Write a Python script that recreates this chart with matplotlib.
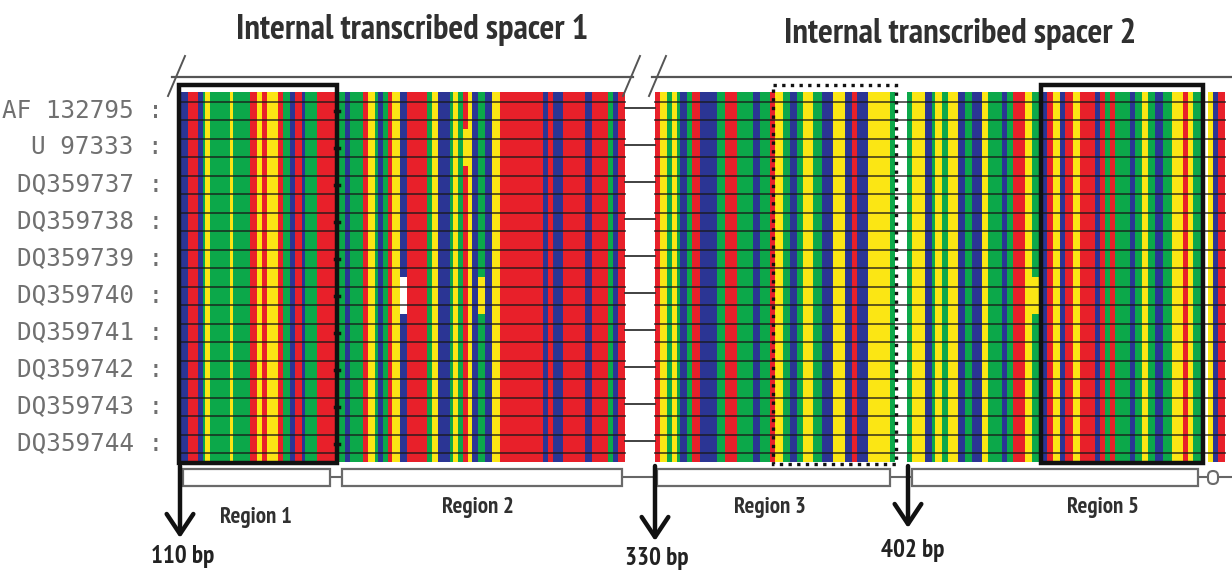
import numpy as np
import matplotlib
matplotlib.use("Agg")
import matplotlib.pyplot as plt
from matplotlib.patches import Rectangle, FancyBboxPatch
from matplotlib.colors import to_rgb
from matplotlib import font_manager as fm

# ---------------------------------------------------------------- data
accessions = ["AF 132795", "U 97333", "DQ359737", "DQ359738", "DQ359739",
              "DQ359740", "DQ359741", "DQ359742", "DQ359743", "DQ359744"]

# consensus alignment columns, run-length encoded as (base, n_columns)
its1_runs = [("C", 8), ("T", 10), ("C", 5), ("A", 2), ("G", 5), ("A", 20),
             ("G", 3), ("A", 17), ("T", 7), ("G", 5), ("T", 5), ("G", 11),
             ("T", 5), ("A", 7), ("C", 5), ("T", 7), ("C", 3), ("A", 12),
             ("T", 19),
             ("A", 9), ("C", 5), ("A", 13), ("T", 5), ("G", 7), ("A", 3),
             ("C", 5), ("A", 5), ("T", 4), ("G", 8), ("C", 7), ("T", 20),
             ("A", 5), ("G", 6), ("C", 12), ("A", 3), ("G", 5), ("A", 5),
             ("T", 5), ("G", 4), ("C", 6), ("A", 7), ("C", 7), ("G", 8),
             ("T", 43), ("C", 5), ("T", 5), ("C", 10), ("T", 22), ("C", 7),
             ("T", 16), ("A", 5), ("C", 5), ("T", 7)]

its2_runs = [("T", 5), ("G", 7), ("A", 5), ("G", 5), ("A", 3), ("C", 7),
             ("A", 5), ("T", 8), ("C", 17), ("A", 8), ("T", 12), ("A", 16),
             ("C", 7), ("A", 10), ("T", 5), ("G", 8), ("A", 7), ("C", 7),
             ("A", 6), ("G", 10), ("A", 9), ("C", 11), ("G", 12), ("C", 7),
             ("T", 5), ("C", 11), ("G", 22), ("A", 5), ("-", 12),
             ("A", 5), ("G", 13), ("C", 7), ("A", 3), ("G", 7), ("A", 6),
             ("G", 10), ("C", 7), ("A", 7), ("C", 10), ("G", 6), ("A", 14),
             ("C", 5), ("A", 6), ("T", 12), ("G", 7), ("A", 8),
             ("C", 7), ("T", 6), ("G", 7), ("C", 5), ("T", 8), ("G", 7),
             ("T", 15), ("C", 5), ("T", 5), ("A", 5), ("T", 5), ("A", 15),
             ("C", 5), ("A", 7), ("G", 6), ("A", 7), ("C", 8), ("A", 9),
             ("G", 11), ("T", 5), ("G", 5), ("A", 10), ("-", 5),
             ("G", 5), ("C", 5), ("T", 7)]

# sequence-specific differences: (row, block, first column, n_columns, base)
variants = [(1, 0, 283, 5, "G"),
            (5, 0, 220, 7, "-"),
            (5, 0, 298, 7, "G"),
            (5, 1, 377, 8, "G")]

bp_marks = [110, 330, 402]
region_names = ["Region 1", "Region 2", "Region 3", "Region 5"]
spacer_titles = ["Internal transcribed spacer 1", "Internal transcribed spacer 2"]

base_colors = {"T": "#E8202A", "A": "#0CA84A", "C": "#2B3594",
               "G": "#FBE614", "-": "#FFFFFF"}

# ---------------------------------------------------------------- fonts
_installed = {f.name for f in fm.fontManager.ttflist}
_narrow = ["PT Sans Narrow", "Roboto Condensed", "Archivo Narrow",
           "Liberation Sans Narrow", "Fira Sans Condensed", "Open Sans Condensed",
           "Encode Sans Condensed", "Asap Condensed", "Barlow Condensed",
           "Ubuntu Condensed"]
title_font = [n for n in _narrow if n in _installed][:1] + ["DejaVu Sans"]

# ---------------------------------------------------------------- layout
W, H = 1232, 573
fig = plt.figure(figsize=(W / 100, H / 100), dpi=100)
ax = fig.add_axes([0, 0, 1, 1])
ax.set_xlim(0, W)
ax.set_ylim(H, 0)
ax.axis("off")

y_top, y_bot = 92, 462
n_rows = len(accessions)
row_h = (y_bot - y_top) / n_rows
row_c = [y_top + row_h * (i + 0.5) for i in range(n_rows)]
block_x0 = [180, 655]


def block_image(runs, block):
    seq = "".join(b * n for b, n in runs)
    grid = [list(seq) for _ in range(n_rows)]
    for r, blk, c0, n, b in variants:
        if blk == block:
            for c in range(c0, c0 + n):
                grid[r][c] = b
    rgb = np.array([[to_rgb(base_colors[b]) for b in row] for row in grid])
    return rgb, len(seq)


block_x1 = []
for k, runs in enumerate([its1_runs, its2_runs]):
    img, ncol = block_image(runs, k)
    x0 = block_x0[k]
    x1 = x0 + ncol
    block_x1.append(x1)
    ax.imshow(img, extent=(x0, x1, y_bot, y_top), aspect="auto",
              interpolation="nearest", zorder=1)
    # sequence tracks
    for yc in row_c:
        for dy in (-9, 9):
            ax.plot([x0, x1], [yc + dy, yc + dy], color="#1a1a1a",
                    lw=1.3, alpha=0.75, zorder=2)

# connecting lines between the two spacers
for yc in row_c:
    ax.plot([block_x1[0], block_x0[1]], [yc - 3, yc - 3],
            color="#333333", lw=1.3, zorder=2)
    ax.plot([335, 339], [yc, yc], color="#111111", lw=2.5, zorder=3)

# accession labels
for name, yc in zip(accessions, row_c):
    ax.text(163, yc, f"{name} :", ha="right", va="center",
            family="DejaVu Sans Mono", fontsize=17.5, color="#707070")

# highlighted regions
ax.add_patch(Rectangle((179, 85), 158, 378, fill=False, ec="#111111",
                       lw=3.2, zorder=4))
ax.add_patch(Rectangle((1041, 85), 162, 378, fill=False, ec="#111111",
                       lw=3.2, zorder=4))
ax.add_patch(Rectangle((773, 85), 123, 379, fill=False, ec="#111111",
                       lw=2.4, ls=(0, (1, 1.6)), zorder=4))

# spacer brackets and titles
ax.plot([172, 633], [77, 77], color="#555555", lw=1.6)
ax.plot([652, W], [77, 77], color="#555555", lw=1.6)
for xs in (168, 623, 649):
    ax.plot([xs, xs + 17], [96, 56], color="#555555", lw=1.4)
for title, (tx, ty) in zip(spacer_titles, [(412, 30), (960, 34)]):
    ax.text(tx, ty, title, ha="center", va="center", family=title_font,
            fontweight="bold", fontsize=25, color="#303030")

# region bars
bars = [(183, 330), (342, 622), (657, 890), (912, 1198)]
label_pos = [(256, 517), (478, 508), (770, 508), (1103, 508)]
ax.plot([330, 342], [477, 477], color="#666666", lw=1.5)
ax.plot([622, 657], [477, 477], color="#666666", lw=1.5)
ax.plot([890, 912], [477, 477], color="#666666", lw=1.5)
ax.plot([1198, W], [477, 477], color="#666666", lw=1.5)
for (a, b), name, (lx, ly) in zip(bars, region_names, label_pos):
    ax.add_patch(Rectangle((a, 469), b - a, 17, fc="white", ec="#6a6a6a",
                           lw=1.6, zorder=3))
    ax.text(lx, ly, name, ha="center", va="center", family=title_font,
            fontweight="bold", fontsize=16.5, color="#303030")
ax.add_patch(FancyBboxPatch((1208, 471), 10, 13,
                            boxstyle="round,pad=0,rounding_size=5",
                            fc="white", ec="#6a6a6a", lw=1.5, zorder=3))

# boundary positions in bp
arrow_x = [180, 655, 908]
arrow_tip = [538, 541, 528]
text_pos = [(183, 556), (657, 559), (913, 551)]
for bp, x, tip, (tx, ty) in zip(bp_marks, arrow_x, arrow_tip, text_pos):
    ax.annotate("", xy=(x, tip), xytext=(x, 466),
                arrowprops=dict(arrowstyle="->,head_length=0.6,head_width=0.4",
                                mutation_scale=24, lw=3.2, color="#111111",
                                shrinkA=0, shrinkB=0))
    ax.text(tx, ty, f"{bp} bp", ha="center", va="center", family=title_font,
            fontweight="bold", fontsize=18, color="#222222")

fig.savefig("out.png", dpi=100)
